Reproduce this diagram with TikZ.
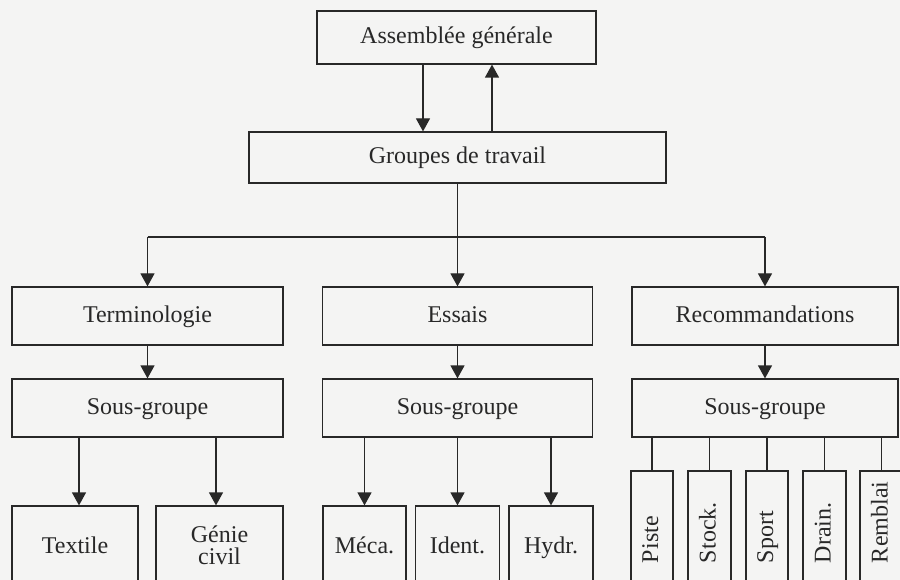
\documentclass[tikz,border=0pt]{standalone}
\usepackage{fontspec}
\setmainfont{Liberation Serif}
\usetikzlibrary{arrows.meta}
\definecolor{bgc}{RGB}{244,244,243}
\definecolor{ink}{RGB}{40,40,40}
\tikzset{
  box/.style={draw=ink, line width=1.2pt, text=ink, inner sep=0pt, font=\fontsize{24}{22}\selectfont, align=center, text height=16pt, text depth=4pt},
  vbox/.style={box, rotate=90, minimum width=138pt},
  ln/.style={draw=ink, line width=1.2pt},
  arr/.style={ln, -{Triangle[width=14pt,length=13pt]}},
}
\newcommand{\vtext}[1]{\makebox[46pt][l]{#1}}
\begin{document}
\begin{tikzpicture}[x=1pt,y=-1pt]
\fill[bgc] (0,0) rectangle (900,580);
\useasboundingbox (0,0) rectangle (900,580);
\clip (0,0) rectangle (900,580);
% top
\node[box, minimum width=279pt, minimum height=53pt] (ag) at (456.5,37.5) {Assemblée générale};
\node[box, minimum width=417pt, minimum height=51pt] (gt) at (457.5,157.5) {Groupes de travail};
% second row
\node[box, minimum width=271pt, minimum height=58pt] (term) at (147.5,316) {Terminologie};
\node[box, minimum width=270pt, minimum height=58pt] (ess) at (457.5,316) {Essais};
\node[box, minimum width=266pt, minimum height=58pt] (rec) at (765,316) {Recommandations};
% third row
\node[box, minimum width=271pt, minimum height=58pt] (sg1) at (147.5,408) {Sous-groupe};
\node[box, minimum width=270pt, minimum height=58pt] (sg2) at (457.5,408) {Sous-groupe};
\node[box, minimum width=266pt, minimum height=58pt] (sg3) at (765,408) {Sous-groupe};
% bottom row
\node[box, minimum width=126pt, minimum height=82pt] (tex) at (75,547) {Textile};
\node[box, minimum width=127pt, minimum height=78pt, text height=, text depth=] (gen) at (219.5,545) {Génie\\civil};
\node[box, minimum width=83pt, minimum height=82pt] (mec) at (364.5,547) {Méca.};
\node[box, minimum width=84pt, minimum height=82pt] (ide) at (457.5,547) {Ident.};
\node[box, minimum width=84pt, minimum height=82pt] (hyd) at (551,547) {Hydr.};
% vertical boxes
\node[vbox, minimum height=42pt] (pis) at (652,540) {\vtext{Piste}};
\node[vbox, minimum height=43pt] (sto) at (709.5,540) {\vtext{Stock.}};
\node[vbox, minimum height=42pt] (spo) at (767,540) {\vtext{Sport}};
\node[vbox, minimum height=43pt] (dra) at (824.5,540) {\vtext{Drain.}};
\node[vbox, minimum height=43pt] (rem) at (881.5,540) {\vtext{Remblai}};
% connectors top
\draw[arr] ([xshift=-33.5pt]ag.south) -- ([xshift=-33.5pt]ag.south |- gt.north);
\draw[arr] ([xshift=34.5pt]gt.north) -- ([xshift=34.5pt]gt.north |- ag.south);
% bus
\coordinate (bus) at (457.5,237);
\draw[ln] (term.north |- bus) -- (rec.north |- bus);
\draw[arr] (term.north |- bus) -- (term.north);
\draw[arr] (rec.north |- bus) -- (rec.north);
\draw[arr] (gt.south) -- (ess.north);
% to sous-groupes
\draw[arr] (term.south) -- (sg1.north);
\draw[arr] (ess.south) -- (sg2.north);
\draw[arr] (rec.south) -- (sg3.north);
% to bottom
\draw[arr] ([xshift=4pt]tex.north |- sg1.south) -- ([xshift=4pt]tex.north);
\draw[arr] ([xshift=-3.5pt]gen.north |- sg1.south) -- ([xshift=-3.5pt]gen.north);
\draw[arr] (mec.north |- sg2.south) -- (mec.north);
\draw[arr] (ide.north |- sg2.south) -- (ide.north);
\draw[arr] (hyd.north |- sg2.south) -- (hyd.north);
\draw[ln] (pis.east |- sg3.south) -- (pis.east);
\draw[ln] (sto.east |- sg3.south) -- (sto.east);
\draw[ln] (spo.east |- sg3.south) -- (spo.east);
\draw[ln] (dra.east |- sg3.south) -- (dra.east);
\draw[ln] (rem.east |- sg3.south) -- (rem.east);
\end{tikzpicture}
\end{document}
